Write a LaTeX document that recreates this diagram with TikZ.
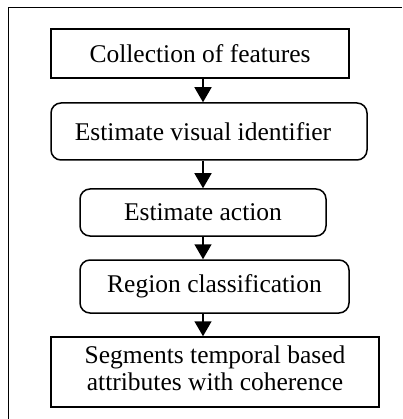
\documentclass[tikz,border=0pt]{standalone}
\usepackage{fontspec}
\setmainfont{Liberation Serif}
\usetikzlibrary{arrows.meta}
\begin{document}
\begin{tikzpicture}[x=1pt,y=-1pt,
  box/.style={draw=black,line width=1.5pt,minimum width=#1,inner sep=0pt,align=center,
    font=\fontsize{25.5}{27}\selectfont},
  sqbox/.style={box=#1},
  rbox/.style={box=#1,rounded corners=10pt},
  flow/.style={draw=black,line width=1.5pt,-{Triangle[width=17pt,length=15pt]}}]
\useasboundingbox (0,0) rectangle (402,419);
\fill[white] (0,0) rectangle (402,419);
\draw[line width=1.5pt] (8.5,419) |- (402,7.5);
\node[sqbox=298pt,minimum height=49pt] (b1) at (200,53.5) {Collection of features};
\node[rbox=316pt,minimum height=57pt] (b2) at (209,131.5) {\hspace*{-12pt}Estimate visual identifier};
\node[rbox=246pt,minimum height=47pt] (b3) at (203,212.5) {Estimate action};
\node[rbox=269pt,minimum height=53pt] (b4) at (214.5,286.5) {Region classification};
\node[sqbox=328pt,minimum height=70pt] (b5) at (215,372) {\raisebox{-4pt}{\begin{tabular}{@{}c@{}}Segments temporal based\\attributes with coherence\end{tabular}}};
\coordinate (ax) at (203,0);
\draw[flow] (b1.south -| ax) -- (b2.north -| ax);
\draw[flow] (b2.south -| ax) -- (b3.north -| ax);
\draw[flow] (b3.south -| ax) -- (b4.north -| ax);
\draw[flow] (b4.south -| ax) -- (b5.north -| ax);
\end{tikzpicture}
\end{document}
